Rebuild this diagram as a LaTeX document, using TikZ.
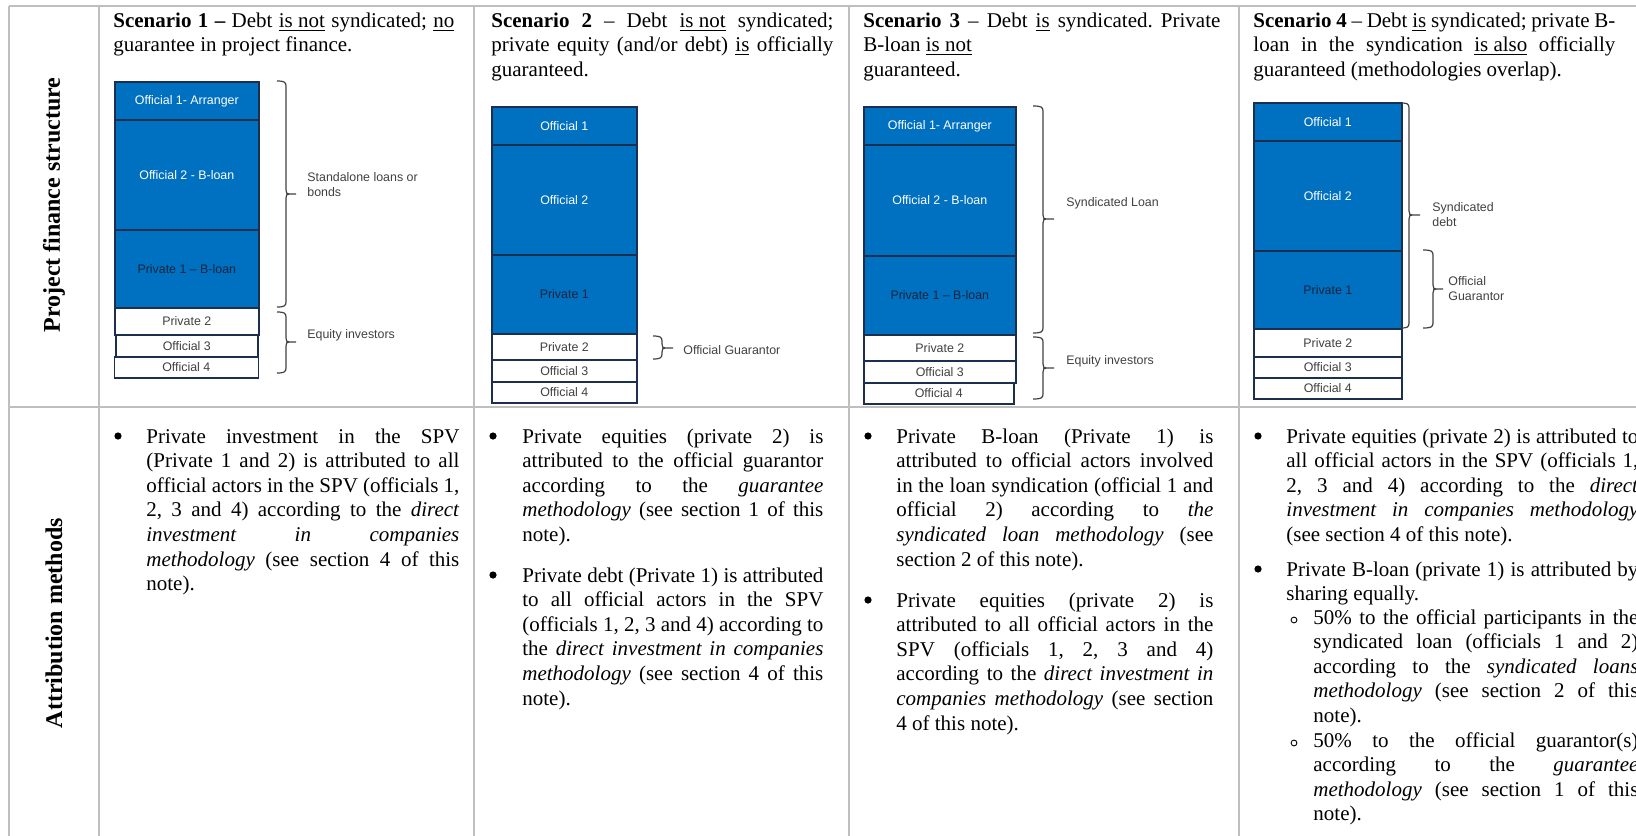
\documentclass[tikz,border=0pt]{standalone}
\usepackage{fontspec}
\setmainfont{Liberation Serif}
\newfontfamily\diagfont{Liberation Sans}
\frenchspacing

\definecolor{ofblue}{HTML}{0070C0}
\definecolor{navy}{HTML}{1C2F4F}
\definecolor{ptext}{HTML}{15243D}
\definecolor{labgray}{HTML}{404040}
\definecolor{gridgray}{HTML}{BFBFBF}

\newcommand{\bodysize}{\fontsize{10.5}{12.3}\selectfont\frenchspacing\tolerance=10000\hyphenpenalty=10000\relax}
\newcommand{\diagsize}{\diagfont\fontsize{6.2}{7.5}\selectfont}

\tikzset{
  grid line/.style={draw=gridgray, line width=1pt},
  headtext/.style={anchor=base west, inner sep=0pt, text width=#1, align=justify, font=\bodysize},
  itemtext/.style={anchor=base west, inner sep=0pt, text width=#1, align=justify, font=\bodysize},
  dotmark/.style={circle, fill=black, inner sep=0pt, minimum size=3.6pt},
  ringmark/.style={circle, draw=black, line width=0.45pt, inner sep=0pt, minimum size=2.9pt},
  rowhead/.style={rotate=90, inner sep=0pt, font=\bfseries\fontsize{12}{14}\selectfont},
  official/.style={draw=navy, fill=ofblue, line width=0.8pt, inner sep=0pt, text=white, font=\diagsize},
  privloan/.style={official, text=ptext},
  equity/.style={draw=navy, fill=white, line width=0.8pt, inner sep=0pt, text=labgray, font=\diagsize},
  sidelabel/.style={anchor=west, inner sep=0pt, align=left, text=labgray, font=\diagsize},
  bracestyle/.style={draw=labgray, line width=0.6pt},
}

% one block of a financing stack: name, x1, y1, x2, y2, style, label
\newcommand{\stackpart}[7]{%
  \node[#6, anchor=north west, minimum width={(#4-#2)*0.5pt},
        minimum height={(#5-#3)*0.5pt}] (#1) at (#2,#3) {#7};}

% right-hand curly bracket: left end x, spine x, tip x, top y, bottom y, tip y
\newcommand{\sidebrace}[6]{%
  \draw[bracestyle] (#1,#4) .. controls ({#2-2},#4) and (#2,{#4+1}) .. (#2,{#4+5})
     -- (#2,{#6-4}) .. controls (#2,{#6-1}) and ({#2+1},#6) .. ({#2+3},#6) -- (#3,#6);
  \draw[bracestyle] ({#2+3},#6) .. controls ({#2+1},#6) and (#2,{#6+1}) .. (#2,{#6+4})
     -- (#2,{#5-5}) .. controls (#2,{#5-1}) and ({#2-2},#5) .. (#1,#5);}

\begin{document}
\begin{tikzpicture}[x=0.5pt, y=-0.5pt]
\useasboundingbox (0,0) rectangle (1636,835);
\clip (0,0) rectangle (1636,835);

% table rules
\draw[grid line] (9,6) -- (1650,6);
\draw[grid line] (9,407) -- (1650,407);
\foreach \cx in {9,99,474,849,1239}
  \draw[grid line] (\cx,6) -- (\cx,850);

% row headings
\node[rowhead] (rowA) at (54,205) {Project finance structure};
\node[rowhead] (rowB) at (54,623) {Attribution methods};

% scenario headings
\node[headtext=170.5pt] (h1) at (113,27) {\noindent\textbf{Scenario 1 –} Debt \underline{is not} syndicated; \underline{no}\linebreak guarantee in project finance.};
\node[headtext=171pt] (h2) at (491,27) {\noindent\textbf{Scenario 2} – Debt \underline{is not} syndicated;\linebreak private equity (and/or debt) \underline{is} officially\linebreak guaranteed.};
\node[headtext=178.5pt] (h3) at (863,27) {\noindent\textbf{Scenario 3} – Debt \underline{is} syndicated. Private\linebreak B-loan \underline{is not}\newline guaranteed.};
\node[headtext=181pt] (h4) at (1253,27) {\noindent\textbf{Scenario 4} – Debt \underline{is} syndicated; private B-\linebreak loan in the syndication \underline{is also} officially\linebreak guaranteed (methodologies overlap).};

% ---- scenario 1 stack
\stackpart{a1}{114}{81}{258}{119}{official}{Official 1- Arranger}
\stackpart{a2}{114}{119}{258}{229}{official}{Official 2 - B-loan}
\stackpart{a3}{114}{229}{258}{307}{privloan}{Private 1 – B-loan}
\stackpart{a4}{114}{307}{258}{334}{equity}{Private 2}
\stackpart{a5}{115}{334}{257}{356}{equity}{Official 3}
\stackpart{a6}{113.5}{356}{257.5}{377}{equity}{Official 4}
\sidebrace{277}{286}{296}{81}{307}{194}
\sidebrace{277}{286}{296}{312}{373}{342}
\node[sidelabel] (la1) at (307,185) {Standalone loans or\\bonds};
\node[sidelabel] (la2) at (307,335) {Equity investors};

% ---- scenario 2 stack
\stackpart{b1}{491}{106}{636}{144}{official}{Official 1}
\stackpart{b2}{491}{144}{636}{254}{official}{Official 2}
\stackpart{b3}{491}{254}{636}{333}{privloan}{Private 1}
\stackpart{b4}{491}{333}{636}{359}{equity}{Private 2}
\stackpart{b5}{491}{359}{636}{381}{equity}{Official 3}
\stackpart{b6}{491}{381}{636}{402}{equity}{Official 4}
\sidebrace{653}{662}{673}{336}{359}{348}
\node[sidelabel] (lb1) at (683,350) {Official Guarantor};

% ---- scenario 3 stack
\stackpart{c1}{863}{106}{1015}{144}{official}{Official 1- Arranger}
\stackpart{c2}{863}{144}{1015}{255}{official}{Official 2 - B-loan}
\stackpart{c3}{863}{255}{1015}{334}{privloan}{Private 1 – B-loan}
\stackpart{c4}{863}{334}{1015}{360}{equity}{Private 2}
\stackpart{c5}{863}{360}{1015}{382}{equity}{Official 3}
\stackpart{c6}{863}{382}{1013}{403}{equity}{Official 4}
\sidebrace{1033}{1043}{1054}{106}{333}{219}
\sidebrace{1033}{1043}{1054}{337}{399}{368}
\node[sidelabel] (lc1) at (1066,203) {Syndicated Loan};
\node[sidelabel] (lc2) at (1066,361) {Equity investors};

% ---- scenario 4 stack
\stackpart{d1}{1253}{102}{1401}{140}{official}{Official 1}
\stackpart{d2}{1253}{140}{1401}{250}{official}{Official 2}
\stackpart{d3}{1253}{250}{1401}{328}{privloan}{Private 1}
\stackpart{d4}{1253}{328}{1401}{356}{equity}{Private 2}
\stackpart{d5}{1253}{356}{1401}{377}{equity}{Official 3}
\stackpart{d6}{1253}{377}{1401}{398}{equity}{Official 4}
\sidebrace{1402}{1409}{1420}{103}{328}{215}
\sidebrace{1423}{1433}{1443}{250}{328}{289}
\node[sidelabel] (ld1) at (1432,215) {Syndicated\\debt};
\node[sidelabel] (ld2) at (1448,289) {Official\\Guarantor};

% ---- attribution methods
\node[dotmark] (m1b) at (118,436) {};
\node[itemtext=156.5pt] (m1) at (146,443) {\noindent Private investment in the SPV\linebreak (Private 1 and 2) is attributed to all\linebreak official actors in the SPV (officials 1,\linebreak 2, 3 and 4) according to the \textit{direct}\linebreak \textit{investment in companies}\linebreak \textit{methodology} (see section 4 of this\linebreak note).};

\node[dotmark] (m2b) at (493,436) {};
\node[itemtext=150.5pt] (m2) at (522,443) {\noindent Private equities (private 2) is\linebreak attributed to the official guarantor\linebreak according to the \textit{guarantee}\linebreak \textit{methodology} (see section 1 of this\linebreak note).};
\node[dotmark] (m3b) at (493,575) {};
\node[itemtext=150.5pt] (m3) at (522,582) {\noindent Private debt (Private 1) is attributed\linebreak to all official actors in the SPV\linebreak (officials 1, 2, 3 and 4) according to\linebreak the \textit{direct investment in companies}\linebreak \textit{methodology} (see section 4 of this\linebreak note).};

\node[dotmark] (m4b) at (868,436) {};
\node[itemtext=158.5pt] (m4) at (896,443) {\noindent Private B-loan (Private 1) is\linebreak attributed to official actors involved\linebreak in the loan syndication (official 1 and\linebreak official 2) according to \textit{the}\linebreak \textit{syndicated loan methodology} (see\linebreak section 2 of this note).};
\node[dotmark] (m5b) at (868,600) {};
\node[itemtext=158.5pt] (m5) at (896,607) {\noindent Private equities (private 2) is\linebreak attributed to all official actors in the\linebreak SPV (officials 1, 2, 3 and 4)\linebreak according to the \textit{direct investment in}\linebreak \textit{companies methodology} (see section\linebreak 4 of this note).};

\node[dotmark] (m6b) at (1258,436) {};
\node[itemtext=176pt] (m6) at (1286,443) {\noindent Private equities (private 2) is attributed to\linebreak all official actors in the SPV (officials 1,\linebreak 2, 3 and 4) according to the \textit{direct}\linebreak \textit{investment in companies methodology}\linebreak (see section 4 of this note).};
\node[dotmark] (m7b) at (1258,569) {};
\node[itemtext=176pt] (m7) at (1286,576) {\noindent Private B-loan (private 1) is attributed by\linebreak sharing equally.};
\node[ringmark] (m8b) at (1294,620) {};
\node[itemtext=162.5pt] (m8) at (1313,624) {\noindent 50\% to the official participants in the\linebreak syndicated loan (officials 1 and 2)\linebreak according to the \textit{syndicated loans}\linebreak \textit{methodology} (see section 2 of this\linebreak note).};
\node[ringmark] (m9b) at (1294,743) {};
\node[itemtext=162.5pt] (m9) at (1313,747) {\noindent 50\% to the official guarantor(s)\linebreak according to the \textit{guarantee}\linebreak \textit{methodology} (see section 1 of this\linebreak note).};
\end{tikzpicture}
\end{document}
